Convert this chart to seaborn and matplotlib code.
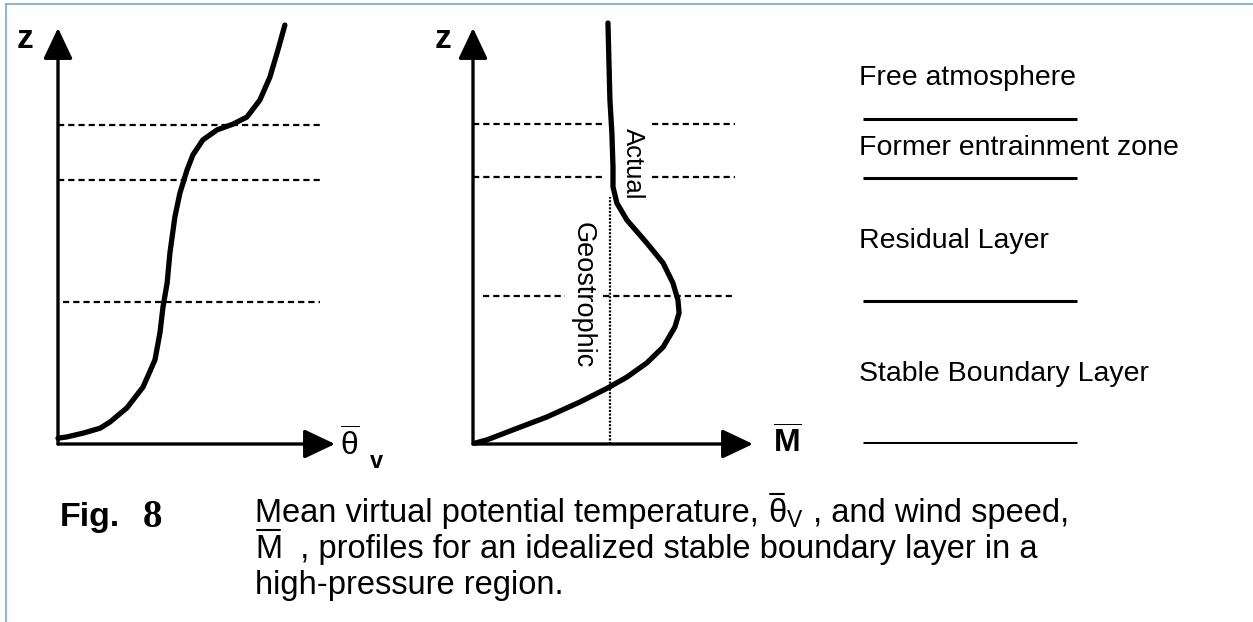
import numpy as np
import pandas as pd
import matplotlib
matplotlib.use("Agg")
import matplotlib.pyplot as plt
from matplotlib.lines import Line2D
import seaborn as sns

# --- Data (normalised units, 0..1 along each axis) ---
theta_v = [0.000, 0.032, 0.090, 0.152, 0.188, 0.249, 0.307, 0.350, 0.368, 0.379, 0.394, 0.404,
           0.422, 0.440, 0.466, 0.487, 0.523, 0.574, 0.632, 0.682, 0.729, 0.765, 0.794, 0.819]
z_theta = [0.014, 0.017, 0.026, 0.038, 0.053, 0.087, 0.137, 0.202, 0.267, 0.329, 0.387, 0.459,
           0.546, 0.603, 0.659, 0.695, 0.731, 0.755, 0.769, 0.786, 0.827, 0.882, 0.947, 1.007]

wind_m = [0.482, 0.486, 0.489, 0.496, 0.500, 0.500, 0.514, 0.550, 0.621, 0.679, 0.714, 0.732,
          0.736, 0.721, 0.679, 0.621, 0.550, 0.482, 0.382, 0.264, 0.143, 0.050, 0.007]
z_wind = [1.012, 0.906, 0.827, 0.748, 0.666, 0.618, 0.579, 0.538, 0.483, 0.435, 0.387, 0.346,
          0.315, 0.281, 0.233, 0.195, 0.161, 0.135, 0.101, 0.065, 0.034, 0.010, 0.002]

geo_wind = 0.489
geo_top = 0.594

theta_levels = [0.767, 0.635, 0.341]
wind_levels = [0.769, 0.642, 0.356]

layer_names = ["Free atmosphere", "Former entrainment zone", "Residual Layer", "Stable Boundary Layer"]
layer_label_z = [0.880, 0.711, 0.489, 0.169]
layer_bounds = [0.781, 0.639, 0.344, 0.002]

# --- Style ---
sns.set_theme(style="white")
plt.rcParams["font.family"] = ["Liberation Sans", "DejaVu Sans"]
plt.rcParams["text.color"] = "black"
plt.rcParams["mathtext.fontset"] = "custom"
plt.rcParams["mathtext.rm"] = "Liberation Sans"
plt.rcParams["mathtext.it"] = "Liberation Sans:italic"
plt.rcParams["mathtext.bf"] = "Liberation Sans:bold"

W, H = 1253, 622
fig = plt.figure(figsize=(W / 100, H / 100), dpi=100)
fig.patch.set_facecolor("white")


def px(x, y):
    return x / W, 1 - y / H


def panel(x0, x1, y_top=28, y_org=444):
    ax = fig.add_axes([x0 / W, (H - y_org) / H, (x1 - x0) / W, (y_org - y_top) / H])
    ax.set_xlim(0, 1)
    ax.set_ylim(0, 1)
    ax.axis("off")
    return ax


def draw_axes(ax):
    arrow = dict(arrowstyle="-|>,head_length=0.95,head_width=0.45", lw=2.4, color="black",
                 shrinkA=0, shrinkB=0, mutation_scale=20)
    ax.annotate("", xy=(1, 0), xytext=(0, 0), xycoords="axes fraction", arrowprops=arrow)
    ax.annotate("", xy=(0, 1), xytext=(0, 0), xycoords="axes fraction", arrowprops=arrow)


dash = (0, (2.8, 1.8))

# Left panel: virtual potential temperature
ax1 = panel(58, 335)
draw_axes(ax1)
ax1.hlines(theta_levels[:2], 0, 0.946, colors="black", lw=1.6, linestyles=dash)
ax1.hlines(theta_levels[2], 0.018, 0.946, colors="black", lw=1.6, linestyles=dash)
sns.lineplot(x=theta_v, y=z_theta, sort=False, estimator=None, color="black", lw=3.8, ax=ax1,
             solid_capstyle="round", solid_joinstyle="round")
for l in ax1.lines:
    l.set_clip_on(False)
ax1.set_xlim(0, 1)
ax1.set_ylim(0, 1)

# Middle panel: wind speed
ax2 = panel(473, 753)
draw_axes(ax2)
ax2.hlines(wind_levels[:2], 0, 0.461, colors="black", lw=1.6, linestyles=dash)
ax2.hlines(wind_levels[:2], 0.639, 0.936, colors="black", lw=1.6, linestyles=dash)
ax2.hlines(wind_levels[2], 0.036, 0.329, colors="black", lw=1.6, linestyles=dash)
ax2.hlines(wind_levels[2], 0.464, 0.936, colors="black", lw=1.6, linestyles=dash)
ax2.vlines(geo_wind, 0, geo_top, colors="black", lw=1.6, linestyles=(0, (0.9, 0.7)))
sns.lineplot(x=wind_m, y=z_wind, sort=False, estimator=None, color="black", lw=3.8, ax=ax2,
             solid_capstyle="round", solid_joinstyle="round")
for l in ax2.lines:
    l.set_clip_on(False)
ax2.set_xlim(0, 1)
ax2.set_ylim(0, 1)
ax2.text(0.571, 0.673, "Actual", rotation=-90, ha="center", va="center", fontsize=18.5)
ax2.text(0.393, 0.358, "Geostrophic", rotation=-90, ha="center", va="center", fontsize=19.5)

# Right panel: layer names
ax3 = panel(820, 1253)
ax3.hlines(layer_bounds, 0.100, 0.594, colors="black", lw=2.2)
for name, zz in zip(layer_names, layer_label_z):
    ax3.text(0.090, zz, name, ha="left", va="center", fontsize=20.5)

# Axis labels
fig.text(*px(25, 40), "z", fontsize=24, fontweight="bold", ha="center", va="center")
fig.text(*px(443, 40), "z", fontsize=24, fontweight="bold", ha="center", va="center")
fig.text(*px(350, 445), r"$\overline{\mathrm{θ}}$", fontsize=23, ha="center", va="center")
fig.text(*px(376, 461), "v", fontsize=17, fontweight="bold", ha="center", va="center")
fig.text(*px(787, 443), r"$\overline{\mathbf{M}}$", fontsize=23, ha="center", va="center")

# Caption
fig.text(*px(60, 526), "Fig.", fontsize=24.5, fontweight="bold", ha="left", va="baseline")
fig.text(*px(143, 527), "8", fontsize=28, fontweight="bold", family="Liberation Serif",
         ha="left", va="baseline")

CAP_FS = 23.5
renderer = fig.canvas.get_renderer()


def caption_line(pieces, x, y, barred=()):
    # write pieces one after another on a common baseline, overline the barred ones
    for i, piece in enumerate(pieces):
        t = fig.text(*px(x, y), piece, fontsize=CAP_FS, ha="left", va="baseline")
        w = t.get_window_extent(renderer).width
        if i in barred:
            fig.add_artist(Line2D([(x + 2) / W, (x + w - 2) / W], [1 - (y - 28) / H] * 2,
                                  color="black", lw=1.5, transform=fig.transFigure))
        x += w


caption_line(["Mean virtual potential temperature, ", "θ", r"$_{\mathrm{V}}$",
              " , and wind speed,"], 255, 522, barred=(1,))
caption_line(["M", "  , profiles for an idealized stable boundary layer in a"], 255, 558,
             barred=(0,))
caption_line(["high-pressure region."], 255, 594)

# Thin blue frame at top and left
fig.add_artist(Line2D([6 / W, 1], [1 - 4 / H, 1 - 4 / H], color="#6fa8dc", lw=1.2,
                      transform=fig.transFigure))
fig.add_artist(Line2D([6 / W, 6 / W], [0, 1 - 4 / H], color="#6fa8dc", lw=1.2,
                      transform=fig.transFigure))

fig.savefig("out.png", dpi=100, facecolor="white")
